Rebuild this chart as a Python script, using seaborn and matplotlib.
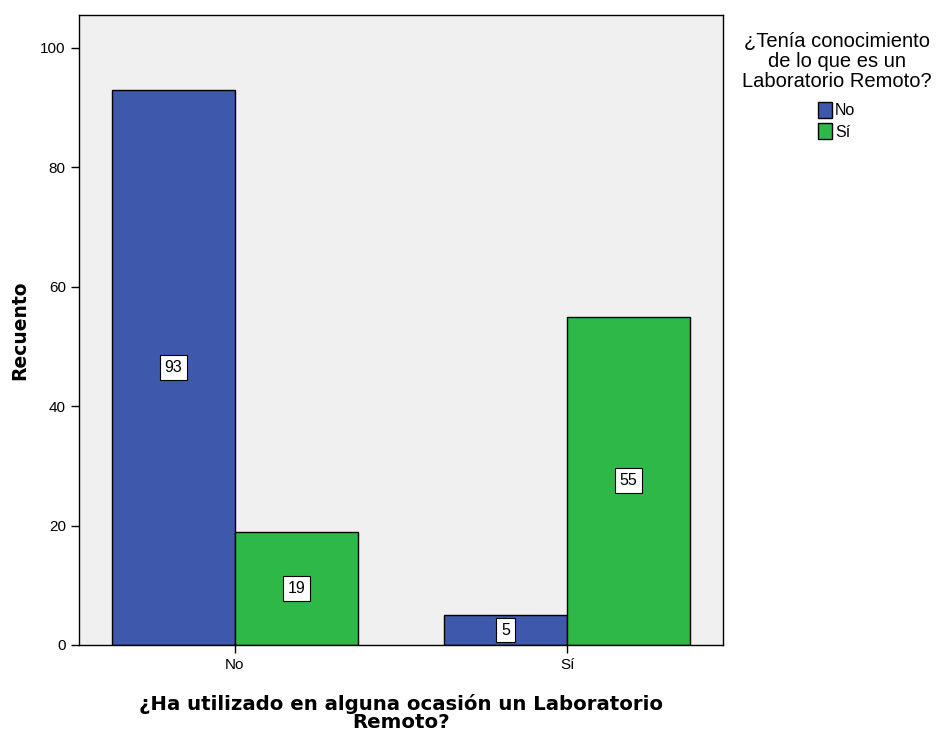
import matplotlib
matplotlib.use('Agg')
import matplotlib.pyplot as plt
import pandas as pd
import seaborn as sns

# datos del gráfico
usado = ['No', 'Sí', 'No', 'Sí']
conoce = ['No', 'No', 'Sí', 'Sí']
recuento = [93, 5, 19, 55]

data = pd.DataFrame({'usado': usado, 'conoce': conoce, 'recuento': recuento})

sns.set_style('white')
plt.rcParams['font.family'] = ['Liberation Sans', 'DejaVu Sans']
plt.rcParams['text.color'] = 'black'
plt.rcParams['axes.labelcolor'] = 'black'

fig = plt.figure(figsize=(9.36, 7.36), dpi=100)
ax = fig.add_axes([79 / 936, 91 / 736, 644 / 936, 630 / 736])
ax.set_facecolor('#f0f0f0')

sns.barplot(data=data, x='usado', y='recuento', hue='conoce',
            order=['No', 'Sí'], hue_order=['No', 'Sí'],
            palette=['#3e58ac', '#2eb848'], width=0.74, gap=0,
            edgecolor='black', linewidth=1, saturation=1, ax=ax, legend=True)

# etiquetas con el valor en el centro de cada barra
for cont in ax.containers:
    for bar in cont:
        h = bar.get_height()
        ax.text(bar.get_x() + bar.get_width() / 2, h / 2, f'{int(h)}',
                ha='center', va='center', fontsize=11.5,
                bbox=dict(boxstyle='square,pad=0.3', fc='white', ec='black', lw=0.8))

ax.set_xlim(-0.469, 1.469)
ax.set_ylim(0, 105.5)
ax.set_yticks([0, 20, 40, 60, 80, 100])
ax.tick_params(axis='both', direction='out', length=6, width=1, labelsize=11, colors='black')
ax.tick_params(axis='x', bottom=True)
ax.tick_params(axis='y', left=True)
for s in ax.spines.values():
    s.set_color('black')
    s.set_linewidth(1)

ax.set_ylabel('Recuento', fontsize=13.5, fontweight='bold', family='DejaVu Sans', labelpad=8)
ax.set_xlabel('¿Ha utilizado en alguna ocasión un Laboratorio\nRemoto?',
              fontsize=14.2, fontweight='bold', family='DejaVu Sans',
              linespacing=0.9, labelpad=16)

leg = ax.legend(title='¿Tenía conocimiento\nde lo que es un\nLaboratorio Remoto?',
                loc='upper center', bbox_to_anchor=(1.177, 0.985), frameon=False,
                fontsize=11.5, title_fontsize=14.5, handlelength=0.85, handleheight=1.15,
                handletextpad=0.2, labelspacing=0.3, borderpad=0)
leg.get_title().set_multialignment('center')
leg.get_title().set_linespacing(1.05)
leg._legend_box.sep = 8

fig.savefig('out.png', dpi=100)
